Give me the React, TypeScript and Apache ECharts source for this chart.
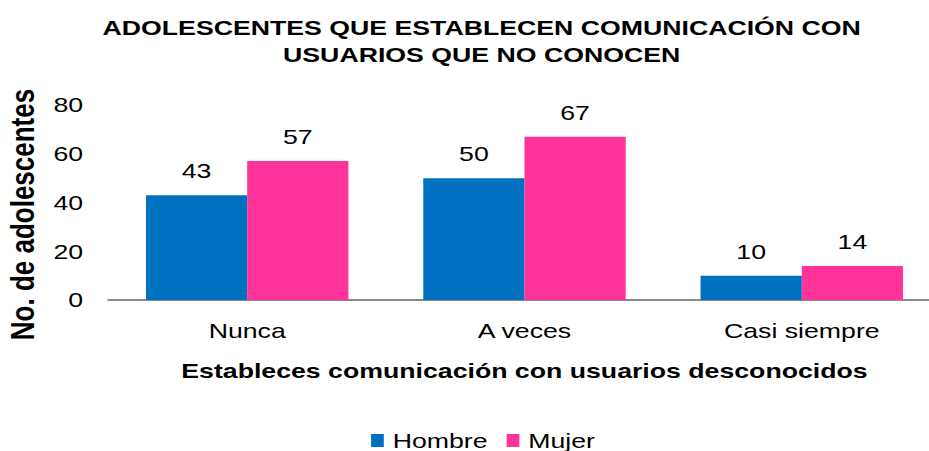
import React, { useEffect, useRef } from "react";
import * as echarts from "echarts";

const categories = ["Nunca", "A veces", "Casi siempre"];
const hombre = [43, 50, 10];
const mujer = [57, 67, 14];
const yTicks = { min: 0, max: 80, interval: 20 };

// The reference is rendered horizontally stretched; draw at a narrower width and stretch.
const CHART_W = 731;
const STRETCH = 929 / CHART_W;

export default function App() {
  const ref = useRef<HTMLDivElement>(null);
  useEffect(() => {
    const chart = echarts.init(ref.current!, null, { renderer: "svg" });
    const font = "'Liberation Sans', Arial, sans-serif";
    const labelStyle = {
      show: true,
      position: "top",
      distance: 14,
      fontSize: 21,
      color: "#000",
      fontFamily: font,
    };
    chart.setOption({
      animation: false,
      backgroundColor: "#fff",
      title: {
        text: "ADOLESCENTES QUE ESTABLECEN COMUNICACIÓN CON\nUSUARIOS QUE NO CONOCEN",
        left: 374,
        textAlign: "center",
        top: 9,
        textStyle: {
          fontFamily: font,
          fontWeight: "bold",
          fontSize: 21,
          lineHeight: 27,
          color: "#000",
        },
      },
      legend: {
        top: 425,
        left: 287,
        itemWidth: 10,
        itemHeight: 13,
        itemGap: 15,
        icon: "rect",
        textStyle: { fontFamily: font, fontSize: 21, color: "#000", padding: [0, 0, 0, 2] },
        data: ["Hombre", "Mujer"],
      },
      grid: { left: 85.4, right: -9, top: 105, bottom: 151, containLabel: false, outerBoundsMode: "none" },
      xAxis: {
        type: "category",
        data: categories,
        axisLine: { lineStyle: { color: "#898989", width: 2 } },
        axisTick: { show: false },
        axisLabel: { fontFamily: font, fontSize: 21, color: "#000", margin: 20 },
        name: "Estableces comunicación con usuarios desconocidos",
        nameLocation: "middle",
        nameGap: 60,
        nameTextStyle: { fontFamily: font, fontSize: 21, fontWeight: "bold", color: "#000" },
      },
      yAxis: {
        type: "value",
        min: yTicks.min,
        max: yTicks.max,
        interval: yTicks.interval,
        splitLine: { show: false },
        axisLine: { show: false },
        axisTick: { show: false },
        axisLabel: { fontFamily: font, fontSize: 21, color: "#000", margin: 20 },
        name: "No. de adolescentes",
        nameLocation: "middle",
        nameGap: 55,
        nameTextStyle: {
          fontFamily: font,
          fontSize: 26,
          fontWeight: "bold",
          color: "#000",
          padding: [0, 24, 0, 0],
        },
      },
      series: [
        {
          name: "Hombre",
          type: "bar",
          data: hombre,
          itemStyle: { color: "#0070C0" },
          barGap: "0%",
          barCategoryGap: "27%",
          label: labelStyle,
        },
        {
          name: "Mujer",
          type: "bar",
          data: mujer,
          itemStyle: { color: "#FF3399" },
          barGap: "0%",
          barCategoryGap: "27%",
          label: labelStyle,
        },
      ],
    });
    return () => chart.dispose();
  }, []);
  return (
    <div
      ref={ref}
      style={{
        width: CHART_W,
        height: 451,
        position: "absolute",
        left: 0,
        top: 0,
        transform: `scaleX(${STRETCH})`,
        transformOrigin: "0 0",
      }}
    />
  );
}
